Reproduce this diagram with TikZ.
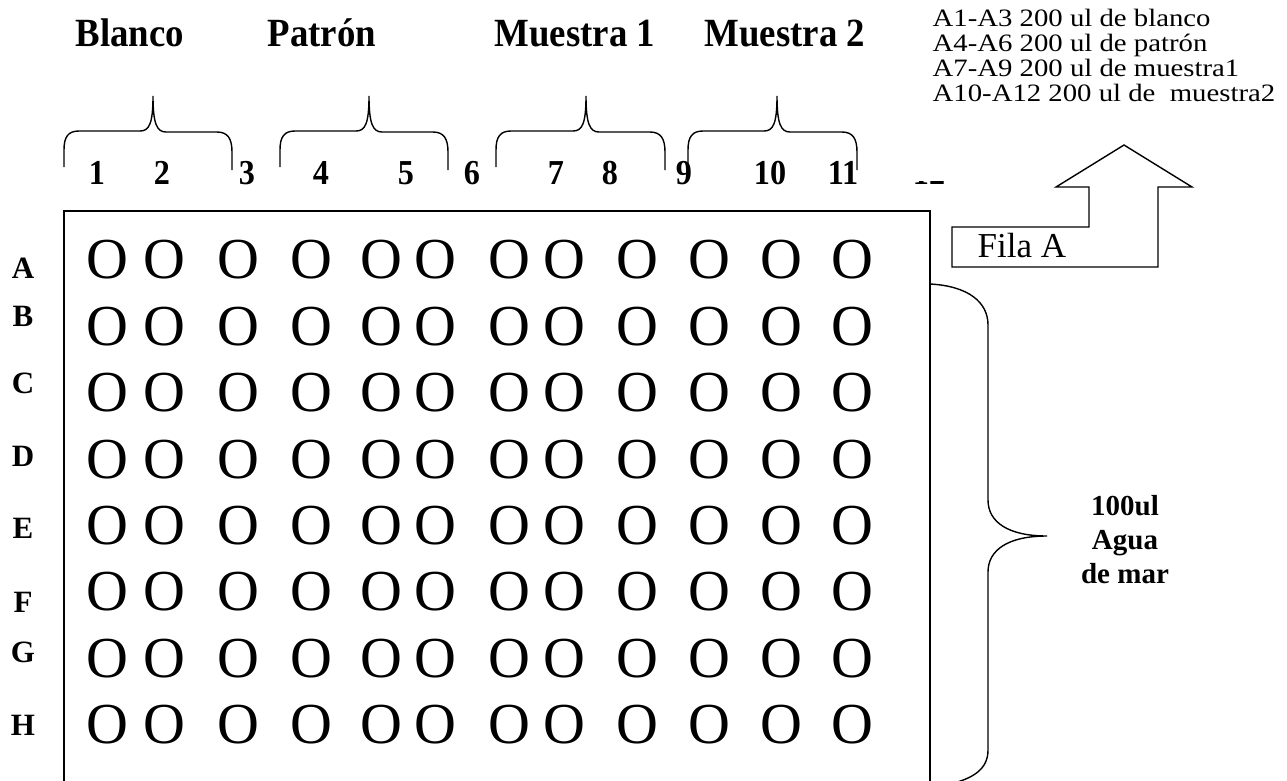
\documentclass[tikz,border=0pt]{standalone}
\usepackage{fontspec}
\setmainfont{Liberation Serif}
\newfontfamily\titlefont[FakeStretch=0.92]{Liberation Serif}
\newfontfamily\legendfont[FakeStretch=1.15]{Liberation Serif}
\begin{document}
\begin{tikzpicture}[x=1pt,y=-1pt,line width=1.4pt,line join=miter,
  ttl/.style={font=\titlefont\fontsize{40}{42}\selectfont\bfseries,anchor=base west,inner sep=0},
  num/.style={font=\titlefont\fontsize{35}{37}\selectfont\bfseries,anchor=base,inner sep=0},
  rowlbl/.style={font=\fontsize{31}{33}\selectfont\bfseries,anchor=base,inner sep=0},
  well/.style={font=\fontsize{58}{60}\selectfont,anchor=center,inner sep=0},
  legtxt/.style={font=\legendfont\fontsize{25}{27}\selectfont,anchor=base west,inner sep=0},
  sidetxt/.style={font=\fontsize{29}{31}\selectfont\bfseries,anchor=base,inner sep=0},
  filatxt/.style={font=\fontsize{35}{37}\selectfont,anchor=base west,inner sep=0},
  brace/.style={line width=1.4pt}]
\useasboundingbox (0,0) rectangle (1287,780);
\clip (0,0) rectangle (1287,780);

% titles
\node[ttl] (tBlanco) at (75,46) {Blanco};
\node[ttl] (tPatron) at (267,46) {Patrón};
\node[ttl] (tM1) at (494,46) {Muestra 1};
\node[ttl] (tM2) at (704,46) {Muestra 2};

% top braces
\foreach \xl/\xt/\xr in {64/153/232, 280/369/448, 496/586/665, 688/777/857}{
  \draw[brace] (\xl,167) -- (\xl,150) .. controls (\xl,137) and (\xl+4,131) .. (\xl+15,131)
    -- (\xt-13,131) .. controls (\xt-4,131) and (\xt,124) .. (\xt,96)
    .. controls (\xt,124) and (\xt+4,132) .. (\xt+13,132)
    -- (\xr-15,132) .. controls (\xr-4,132) and (\xr,139) .. (\xr,152) -- (\xr,170);
}

% column numbers
\foreach \x/\t in {97/1,162/2,247/3,321/4,406/5,472/6,556/7,610/8,684/9,770/10,843/11,929/12}{
  \node[num] (col\t) at (\x,184) {\t};
}

% plate
\draw (64,800) -- (64,211) -- (930,211) -- (930,800);

% wells and row labels
\foreach \r/\yl [count=\i from 0] in {A/278,B/326,C/393,D/466,E/538,F/612,G/662,H/735}{
  \node[rowlbl] (row\r) at (23,\yl) {\r};
  \foreach \x [count=\c] in {107,164,238,311,381,435,509,564,637,709,781,852}{
    \node[well] (w\r\c) at (\x,{260+66.4*\i}) {O};
  }
}

% legend box (white) covering the top of "12"
\fill[white] (895,0) rectangle (1287,181);
\node[legtxt] (leg1) at (932,26) {A1-A3 200 ul de blanco};
\node[legtxt] (leg2) at (932,51) {A4-A6 200 ul de patrón};
\node[legtxt] (leg3) at (932,76) {A7-A9 200 ul de muestra1};
\node[legtxt] (leg4) at (932,101) {A10-A12 200 ul de\ \ muestra2};

% arrow with Fila A
\draw (952,227) -- (1089,227) -- (1089,187) -- (1056,187) -- (1124,145) -- (1192,187)
  -- (1158,187) -- (1158,267) -- (952,267) -- cycle;
\node[filatxt] (fila) at (977,257) {Fila A};

% right brace
\draw[brace] (930,284) .. controls (968,286) and (988,302) .. (988,325) -- (988,500)
  .. controls (988,522) and (1008,536) .. (1047,536)
  .. controls (1008,536) and (988,550) .. (988,572) -- (988,750)
  .. controls (988,768) and (975,778) .. (950,784);
\node[sidetxt] (s1) at (1125,515) {100ul};
\node[sidetxt] (s2) at (1125,549) {Agua};
\node[sidetxt] (s3) at (1125,583) {de mar};
\end{tikzpicture}
\end{document}
